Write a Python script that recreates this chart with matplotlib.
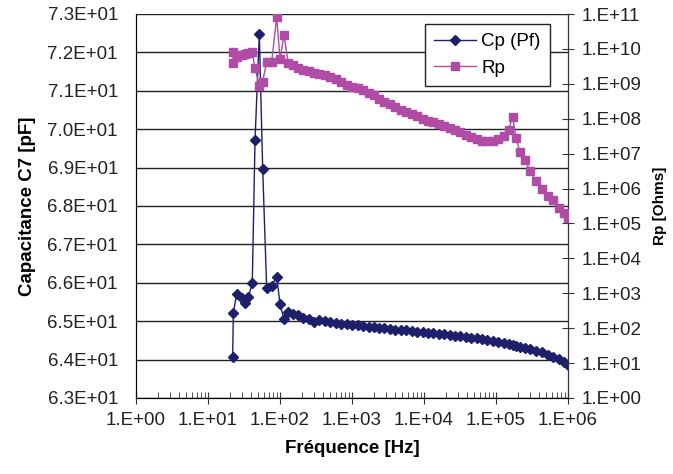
import math
import matplotlib
matplotlib.use('Agg')
import matplotlib.pyplot as plt
from matplotlib.ticker import FixedLocator, FuncFormatter, LogLocator, NullFormatter
from matplotlib.lines import Line2D

plt.rcParams['font.family'] = ['Liberation Sans', 'DejaVu Sans']

# frequency points (Hz)
freq = [22.0, 22.5, 25.0, 29.4, 32.7, 36.3, 41.2, 45.0, 51.6, 57.5, 65.3, 76.7,
        90.0, 100.0, 113.6, 130.0,
        150, 180, 210, 250, 300, 350, 420, 500, 600, 700, 850, 1000,
        1200, 1400, 1700, 2000, 2400, 2800, 3400, 4000, 4800, 5700, 6800, 8000,
        9600, 11500, 13500, 16000, 19000, 23000, 27000, 32000, 38000, 45000, 54000, 64000,
        76000, 90000, 108000, 128000, 150000, 170000, 190000, 215000, 250000, 300000, 360000, 430000,
        520000, 620000, 740000, 880000, 1000000]

# capacitance (pF)
cp = [64.08, 65.22, 65.71, 65.60, 65.47, 65.62, 66.00, 69.72, 72.48, 68.96, 65.86, 65.92,
      66.16, 65.45, 65.05, 65.25,
      65.20, 65.15, 65.08, 65.05, 64.99, 65.02, 65.00, 64.98, 64.96, 64.94, 64.92, 64.90,
      64.89, 64.87, 64.86, 64.84, 64.82, 64.81, 64.80, 64.78, 64.77, 64.76, 64.74, 64.73,
      64.72, 64.70, 64.68, 64.67, 64.66, 64.64, 64.62, 64.61, 64.59, 64.57, 64.55, 64.53,
      64.51, 64.49, 64.46, 64.43, 64.41, 64.38, 64.36, 64.34, 64.31, 64.27, 64.23, 64.19,
      64.13, 64.08, 64.01, 63.93, 63.87]

# parallel resistance (Ohms)
rp = [8.3e9, 3.9e9, 6.0e9, 6.8e9, 7.2e9, 7.6e9, 7.9e9, 2.75e9, 8.9e8, 1.15e9, 4.3e9, 4.3e9,
      8.3e10, 5.0e9, 2.5e10, 3.9e9,
      3.55e9, 2.8e9, 2.45e9, 2.3e9, 2.1e9, 1.95e9, 1.74e9, 1.55e9, 1.35e9, 1.15e9, 9.5e8, 8.3e8,
      7.4e8, 6.6e8, 5.6e8, 4.8e8, 3.6e8, 3.1e8, 2.6e8, 2.1e8, 1.8e8, 1.55e8, 1.35e8, 1.2e8,
      1.0e8, 8.7e7, 7.8e7, 6.9e7, 6.2e7, 5.5e7, 4.7e7, 4.1e7, 3.5e7, 3.0e7, 2.6e7, 2.35e7,
      2.3e7, 2.35e7, 2.6e7, 3.3e7, 4.8e7, 1.15e8, 2.8e7, 1.12e7, 6.6e6, 3.2e6, 1.6e6, 9.5e5,
      6.3e5, 4.6e5, 2.8e5, 2.0e5, 1.4e5]

cp_ticks = [63, 64, 65, 66, 67, 68, 69, 70, 71, 72, 73]
rp_ticks = [1e0, 1e1, 1e2, 1e3, 1e4, 1e5, 1e6, 1e7, 1e8, 1e9, 1e10, 1e11]
f_ticks = [1e0, 1e1, 1e2, 1e3, 1e4, 1e5, 1e6]

cp_color = '#1E1F6B'
rp_color = '#B04BA6'


def exp_label(v, pos):
    return '1.E+%02d' % round(math.log10(v))


fig = plt.figure(figsize=(6.73, 4.74), dpi=100)
ax = fig.add_axes([136 / 673, 1 - 398 / 474, 432 / 673, 384 / 474])
ax2 = ax.twinx()

ax.plot(freq, cp, '-D', color=cp_color, markersize=5, linewidth=1, zorder=3)
ax2.plot(freq, rp, '-s', color=rp_color, markersize=6, linewidth=1, zorder=3)

ax.set_xscale('log')
ax.set_xlim(1, 1e6)
ax.set_ylim(63, 73)
ax2.set_yscale('log')
ax2.set_ylim(1, 1e11)

ax.xaxis.set_major_locator(FixedLocator(f_ticks))
ax.xaxis.set_minor_locator(LogLocator(base=10, subs=range(2, 10), numticks=20))
ax.xaxis.set_minor_formatter(NullFormatter())
ax.xaxis.set_major_formatter(FuncFormatter(exp_label))
ax.set_yticks(cp_ticks)
ax.yaxis.set_major_formatter(FuncFormatter(lambda v, p: '%.1E' % v))
ax2.yaxis.set_major_locator(FixedLocator(rp_ticks))
ax2.yaxis.set_minor_locator(FixedLocator([]))
ax2.yaxis.set_major_formatter(FuncFormatter(exp_label))

ax.grid(axis='y', color='#222222', linewidth=1)
ax.set_axisbelow(True)
ax.spines['top'].set_visible(False)
ax2.spines['top'].set_visible(False)
for sp in ['left', 'bottom']:
    ax.spines[sp].set_color('#333333')
ax2.spines['right'].set_color('#333333')

ax.tick_params(axis='x', which='major', direction='inout', length=8, labelsize=13.5, pad=6,
               color='#333333', labelcolor='#222222')
ax.tick_params(axis='x', which='minor', direction='in', length=4, color='#333333')
ax.tick_params(axis='y', direction='out', length=0, labelsize=13.5, pad=13, labelcolor='#222222')
ax2.tick_params(axis='y', direction='inout', length=8, labelsize=13.5, pad=6,
                color='#333333', labelcolor='#222222')

ax.set_xlabel('Fréquence [Hz]', fontsize=13.5, fontweight='bold', labelpad=8)
ax.set_ylabel('Capacitance C7 [pF]', fontsize=13.5, fontweight='bold', labelpad=8)
ax2.set_ylabel('Rp [Ohms]', fontsize=11, fontweight='bold', labelpad=8)

handles = [Line2D([], [], color=cp_color, marker='D', markersize=5, linewidth=1),
           Line2D([], [], color=rp_color, marker='s', markersize=6, linewidth=1)]
leg = ax2.legend(handles, ['Cp (Pf)', 'Rp'], loc='upper right', bbox_to_anchor=(550 / 673, 1 - 24 / 474),
                 bbox_transform=fig.transFigure, fontsize=13.5, frameon=True, fancybox=False,
                 edgecolor='#222222', framealpha=1, handlelength=2.2, borderpad=0.5, labelspacing=0.5,
                 handletextpad=0.3, borderaxespad=0)
leg.get_frame().set_linewidth(1)

fig.savefig('out.png', dpi=100)
